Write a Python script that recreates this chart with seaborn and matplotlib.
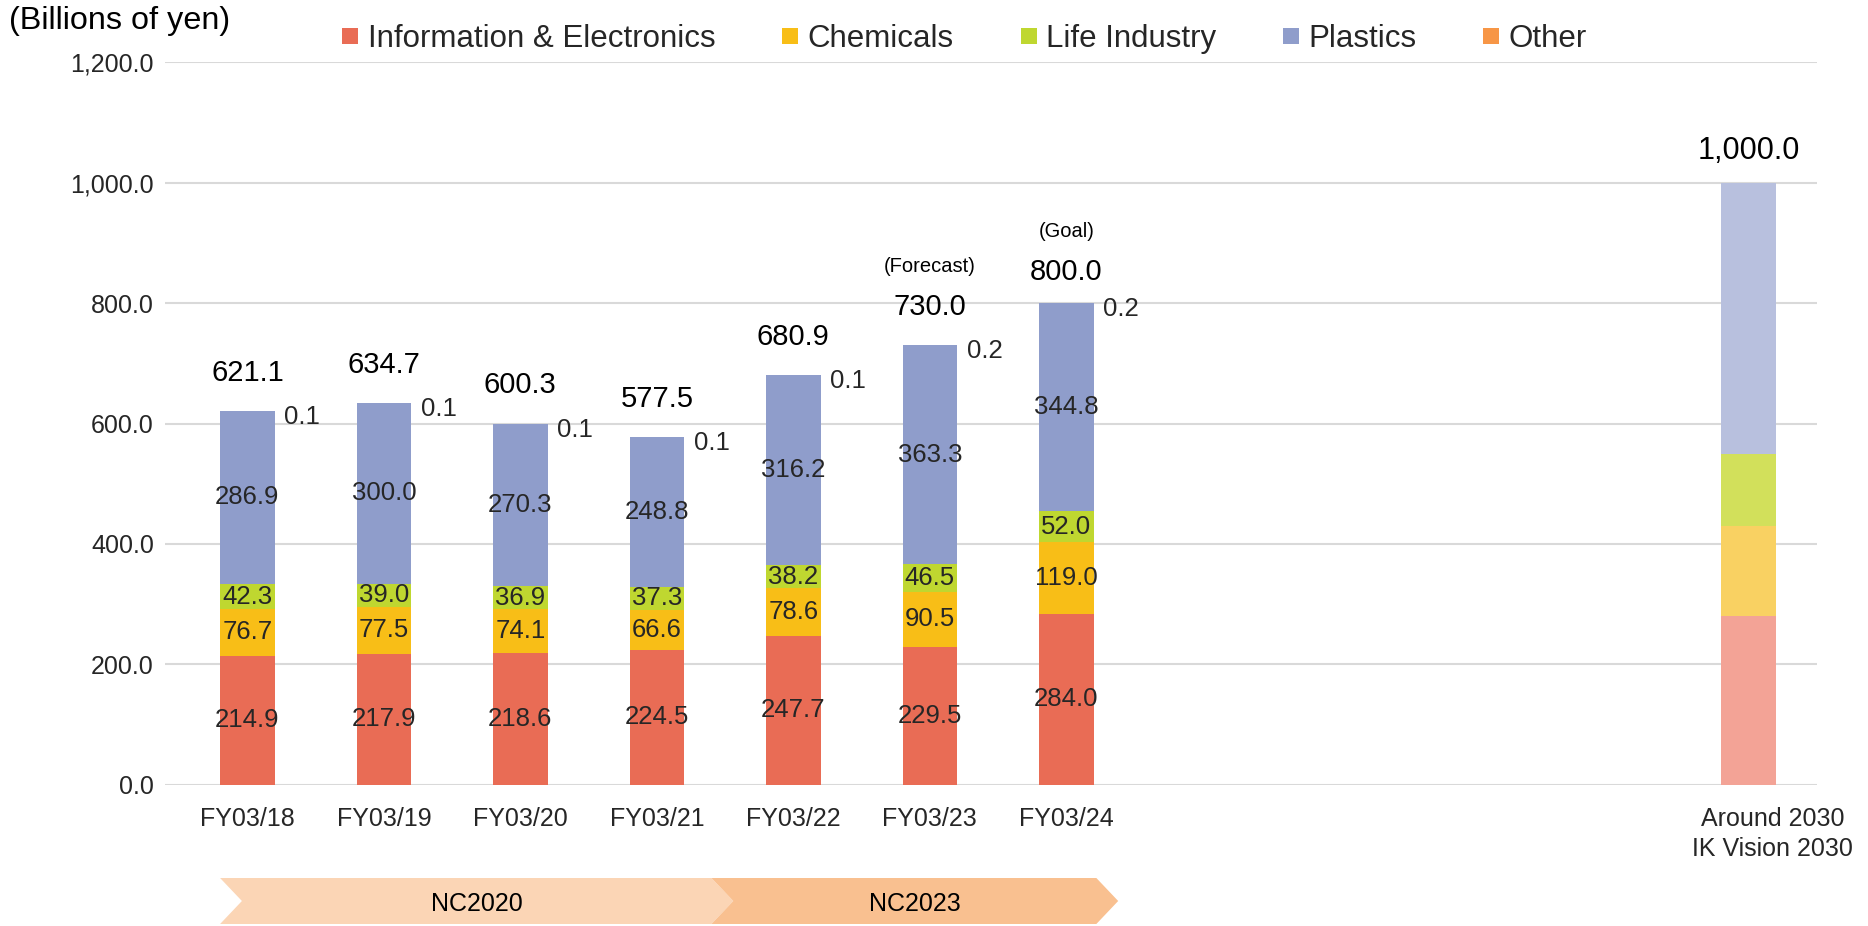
import numpy as np
import pandas as pd
import matplotlib
matplotlib.use("Agg")
import matplotlib.pyplot as plt
import matplotlib.transforms as mtransforms
from matplotlib.lines import Line2D
from matplotlib.patches import Polygon
from matplotlib.ticker import FuncFormatter
import seaborn as sns

# data (billions of yen)
years = ["FY03/18", "FY03/19", "FY03/20", "FY03/21", "FY03/22", "FY03/23", "FY03/24"]
vision_label = "Around 2030\nIK Vision 2030"
segments = ["Information & Electronics", "Chemicals", "Life Industry", "Plastics", "Other"]

info_elec = [214.9, 217.9, 218.6, 224.5, 247.7, 229.5, 284.0]
chemicals = [76.7, 77.5, 74.1, 66.6, 78.6, 90.5, 119.0]
life_industry = [42.3, 39.0, 36.9, 37.3, 38.2, 46.5, 52.0]
plastics = [286.9, 300.0, 270.3, 248.8, 316.2, 363.3, 344.8]
other = [0.1, 0.1, 0.1, 0.1, 0.1, 0.2, 0.2]
totals = [621.1, 634.7, 600.3, 577.5, 680.9, 730.0, 800.0]
notes = ["", "", "", "", "", "(Forecast)", "(Goal)"]

vision_2030 = [280.0, 150.0, 120.0, 450.0, 0.0]
vision_total = 1000.0

plans = ["NC2020", "NC2023"]

colors = ["#E96C55", "#F8BE17", "#BFD730", "#8F9DCB", "#F79646"]
light_colors = ["#F3A396", "#F9D162", "#D2E05B", "#B8C0DE", "#F9B98A"]
plan_colors = ["#FBD5B5", "#F9C090"]

sns.set_theme(style="white")
plt.rcParams["font.family"] = ["Liberation Sans", "DejaVu Sans"]

# one row per bar, vision bar sits at position 11
xpos = list(range(len(years))) + [11]
df = pd.DataFrame({"x": xpos, "kind": ["actual"] * len(years) + ["vision"]})
series = [info_elec, chemicals, life_industry, plastics, other]
for name, vals, v in zip(segments, series, vision_2030):
    df[name] = list(vals) + [v]
cum = df[segments].cumsum(axis=1)

fig = plt.figure(figsize=(18.68, 9.26), dpi=100)
ax = fig.add_axes([0.0883, 0.1523, 0.9727 - 0.0883, 0.933 - 0.1523])

# stacked bars: draw cumulative heights from the top layer down
for i in reversed(range(len(segments))):
    sns.barplot(data=df.assign(top=cum[segments[i]]), x="x", y="top", hue="kind",
                palette={"actual": colors[i], "vision": light_colors[i]},
                native_scale=True, width=0.4, saturation=1, linewidth=0,
                errorbar=None, legend=False, ax=ax)

# segment labels
for j in range(len(years)):
    base = 0.0
    for i in range(4):
        val = series[i][j]
        ax.text(j, base + val / 2, f"{val:.1f}", ha="center", va="center",
                fontsize=18.5, color="#262626")
        base += val
    ax.text(j + 0.27, base - 10, f"{other[j]:.1f}", ha="left", va="center",
            fontsize=18.5, color="#262626")
    off = 51 if j == len(years) - 1 else 63
    ax.text(j, totals[j] + off, f"{totals[j]:.1f}", ha="center", va="center",
            fontsize=21, color="black")
    if notes[j]:
        ax.text(j, totals[j] + off + 68, notes[j], ha="center", va="center",
                fontsize=14.5, color="black")

ax.text(11, vision_total + 52, f"{vision_total:,.1f}", ha="center", va="center",
        fontsize=22, color="black")

ax.set_ylim(0, 1200)
ax.set_xlim(-0.604, 11.5)
ax.set_yticks(np.arange(0, 1201, 200))
ax.yaxis.set_major_formatter(FuncFormatter(lambda v, p: f"{v:,.1f}"))
ax.set_xticks(xpos, years + [vision_label])
ax.set_xlabel("")
ax.set_ylabel("")
ax.yaxis.grid(True, color="#D9D9D9", linewidth=1.5)
ax.xaxis.grid(False)
ax.set_axisbelow(True)
for s in ax.spines.values():
    s.set_visible(False)
ax.tick_params(axis="both", length=0, labelsize=18, labelcolor="#262626")
ax.tick_params(axis="x", pad=16)
ax.tick_params(axis="y", pad=8)

# the vision label sits a little right of its bar, with looser lines
vis_tick = ax.get_xticklabels()[-1]
vis_tick.set_linespacing(1.3)
vis_tick.set_transform(vis_tick.get_transform() +
                       mtransforms.ScaledTranslation(0.24, 0, fig.dpi_scale_trans))

# plan period chevrons under the axis
trans = mtransforms.blended_transform_factory(ax.transData, fig.transFigure)
spans = [(-0.2, 3.4), (3.4, 6.22)]
top, bot = 1 - 878 / 926, 1 - 924 / 926
mid = (top + bot) / 2
d = 0.16
for (x0, x1), name, c in zip(spans, plans, plan_colors):
    poly = Polygon([(x0, top), (x1, top), (x1 + d, mid), (x1, bot), (x0, bot), (x0 + d, mid)],
                   closed=True, facecolor=c, edgecolor="none", transform=trans, clip_on=False)
    ax.add_patch(poly)
    ax.text((x0 + x1 + d) / 2, mid - 0.003, name, transform=trans, ha="center", va="center",
            fontsize=18, color="black")

# legend and unit label
handles = [Line2D([], [], marker="s", linestyle="none", markersize=11.5,
                  markerfacecolor=c, markeredgewidth=0) for c in colors]
fig.legend(handles, segments, loc="center left", bbox_to_anchor=(0.1826, 0.9584),
           ncol=5, frameon=False, fontsize=22.5, handlelength=0.6, handletextpad=0.25,
           columnspacing=2.1, borderpad=0, borderaxespad=0)
fig.text(9 / 1868, 1 - 21 / 926, "(Billions of yen)", ha="left", va="center",
         fontsize=23.3, color="black")

fig.savefig("out.png", dpi=100)
